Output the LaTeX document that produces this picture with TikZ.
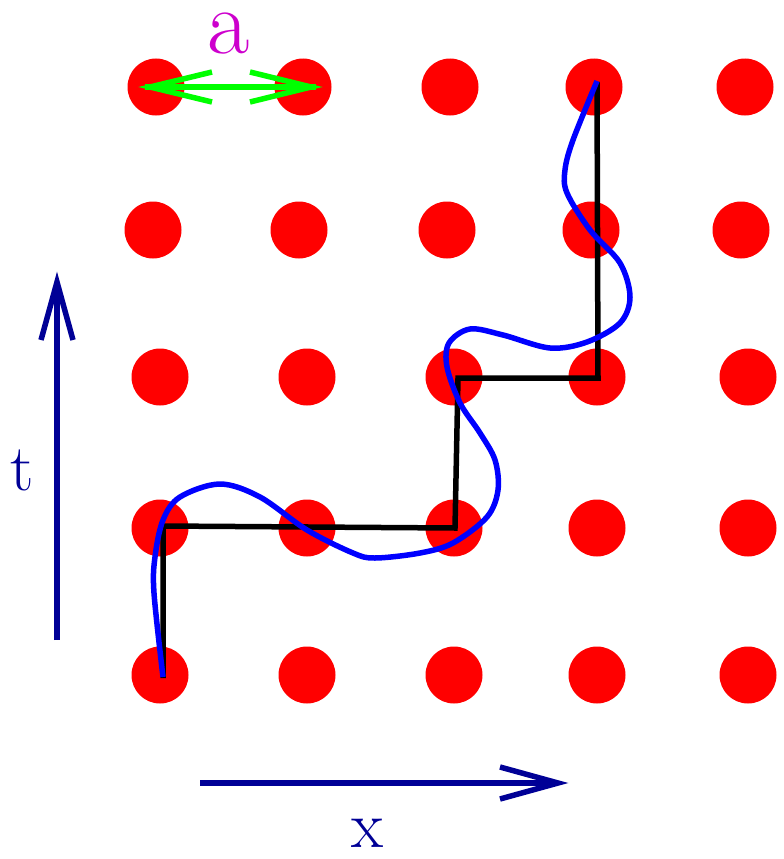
\documentclass[tikz,border=0pt]{standalone}
\definecolor{navyc}{RGB}{0,0,150}
\definecolor{magc}{RGB}{205,0,205}
\definecolor{greenc}{RGB}{0,255,0}
\definecolor{dotc}{RGB}{255,0,0}
\begin{document}
\begin{tikzpicture}[x=1pt,y=-1pt,
  dot/.style={circle,fill=dotc,inner sep=0pt,minimum size=57pt},
  axis/.style={draw=navyc,line width=5.5pt},
  barb/.style={line width=5.5pt,line cap=butt,line join=miter},
  lbl/.style={text=navyc,font=\rmfamily\fontsize{66}{66}\selectfont,inner sep=0pt,anchor=base}]
\useasboundingbox (0,0) rectangle (784,859);
% dots
\foreach \x [count=\i] in {156,303,450,594,745} \node[dot] (d1\i) at (\x,87) {};
\foreach \x [count=\i] in {153,299,447,591,741} \node[dot] (d2\i) at (\x,230) {};
\foreach \x [count=\i] in {160,307,454,597,748} \node[dot] (d3\i) at (\x,377) {};
\foreach \x [count=\i] in {160,307,454,597,748} \node[dot] (d4\i) at (\x,528) {};
\foreach \x [count=\i] in {160,307,454,597,748} \node[dot] (d5\i) at (\x,675) {};
% green double arrow
\coordinate (gl) at (145,87);
\coordinate (gr) at (316,87);
\draw[greenc,line width=5.5pt] (gl) -- (gr);
\draw[greenc,barb] (212,72) -- (150,87) -- (212,102);
\draw[greenc,barb] (250,72) -- (311,87) -- (250,102);
\node[text=magc,font=\rmfamily\fontsize{92}{92}\selectfont,inner sep=0pt,anchor=base] (la) at (229,53) {a};
% black path
\draw[black,line width=5.5pt,line join=miter] (163,678) -- (163,526) -- (455,528) -- (458,378) -- (598,378) -- (597,82);
% blue curve
\draw[blue,line width=5.5pt] plot[smooth,tension=0.55] coordinates {
 (163,677) (154,593) (155,557) (163,520) (180,497) (220,484) (260,497) (307,530) (353,553) (375,558) (420,553) (453,543) (487,517) (498,490) (495,460) (480,433) (460,403) (447,367) (449,343) (470,329) (503,335) (550,348) (587,342) (620,323) (630,297) (620,263) (590,230) (567,193) (565,170) (573,140) (597,81)};
% axes
\coordinate (t0) at (57,640);
\coordinate (t1) at (57,282);
\draw[axis] (t0) -- (t1);
\draw[navyc,barb] (41,340) -- (57,282) -- (73,340);
\node[lbl] (lt) at (22,490) {t};
\coordinate (x0) at (200,783);
\coordinate (x1) at (558,783);
\draw[axis] (x0) -- (x1);
\draw[navyc,barb] (500,767) -- (558,783) -- (500,799);
\node[lbl] (lx) at (368,847) {x};
\end{tikzpicture}
\end{document}
